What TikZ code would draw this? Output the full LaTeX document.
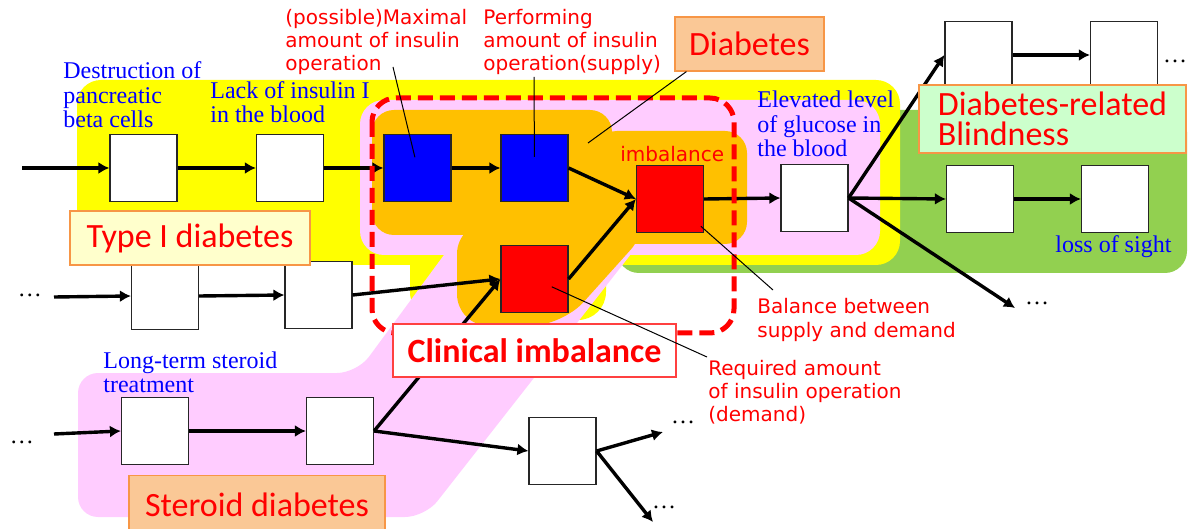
\documentclass[tikz,border=0pt]{standalone}
\usepackage{fontspec}
\setmainfont{Liberation Serif}
\newfontfamily\gothic{DejaVu Sans}
\newfontfamily\calibri{Carlito}
\usetikzlibrary{arrows.meta,calc}
\definecolor{yel}{HTML}{FFFF00}
\definecolor{pnk}{HTML}{FFCCFF}
\definecolor{org}{HTML}{FFC000}
\definecolor{grn}{HTML}{92D050}
\definecolor{peach}{HTML}{FAC896}
\definecolor{cream}{HTML}{FFFFCC}
\definecolor{mint}{HTML}{CCFFCC}
\definecolor{tagline}{HTML}{F79646}
\tikzset{
  blk/.style={draw=black!85, line width=0.6pt, minimum size=33.5pt, inner sep=0pt},
  wbox/.style={blk, fill=white},
  bbox/.style={blk, fill=blue},
  rbox/.style={blk, fill=red},
  flow/.style={line width=1.7pt, -{Latex[length=5.5pt,width=6pt]}},
  lead/.style={line width=0.5pt},
  bluetxt/.style={text=blue, font=\fontsize{12}{12.25}\selectfont, align=left, inner sep=0pt, anchor=base west},
  redtxt/.style={text=red, font=\gothic\fontsize{10}{11.65}\selectfont, align=left, inner sep=0pt, anchor=base west},
  tagbox/.style={draw=tagline, line width=0.6pt, text=red, font=\calibri\fontsize{17}{15}\selectfont, align=left, inner sep=0pt},
  dots/.style={font=\fontsize{12}{12}\selectfont, inner sep=0pt}
}
\begin{document}
\begin{tikzpicture}[x=0.5pt,y=-0.5pt]
\useasboundingbox (0,0) rectangle (1189,529);

\fill[grn, rounded corners=11pt] (617,110) rectangle (1187,273);
\fill[yel, rounded corners=12pt] (77,80) rectangle (900,265);
\fill[yel, rounded corners=14pt] (410,236) rectangle (606,320);
\fill[pnk, rounded corners=12pt] (360,100) rectangle (880,255);
\fill[pnk, rounded corners=10pt] (78,373) -- (357,373) -- (455,240) -- (642,240) -- (425,517) -- (78,517) -- cycle;
\fill[org, rounded corners=11pt] (372,110) rectangle (612,235);
\fill[org, rounded corners=11pt] (595,131) rectangle (747,244);
\fill[org, rounded corners=16pt] (457,222) -- (457,326) -- (562,326) -- (652,226) -- cycle;

\node[wbox] (A1) at (143.5,168) {};
\node[wbox] (A2) at (290,168) {};
\node[bbox] (B1) at (417.5,168) {};
\node[bbox] (B2) at (534.5,168) {};
\node[rbox] (R1) at (670,199) {};
\node[rbox] (R2) at (534.5,279) {};
\node[wbox] (G1) at (814.5,198) {};
\node[wbox] (T1) at (978.5,55) {};
\node[wbox] (T2) at (1124,55) {};
\node[wbox] (E1) at (980,199) {};
\node[wbox] (E2) at (1115,199) {};
\node[wbox] (C1) at (165,296) {};
\node[wbox] (C2) at (318.5,295) {};
\node[wbox] (S1) at (155,431) {};
\node[wbox] (S2) at (340,431) {};
\node[wbox] (D1) at (562.5,451) {};

\node[dots] (dots2) at (30,295) {\ldots};
\node[dots] (dots3) at (22,442) {\ldots};
\node[dots] (dotsT) at (1175,61) {\ldots};
\node[dots] (dotsG) at (1037,303) {\ldots};
\node[dots] (dotsDu) at (683,422) {\ldots};
\node[dots] (dotsDd) at (664,507) {\ldots};

\coordinate (in1) at (22,168);
\coordinate (in2) at (54,297);
\coordinate (in3) at (54,434);
\coordinate (gtip) at (1015,308);
\coordinate (dup) at (663,432);
\coordinate (ddn) at (653,522);

\draw[flow] (in1) -- (A1);
\draw[flow] (A1) -- (A2);
\draw[flow] (A2) -- (B1);
\draw[flow] (B1) -- (B2);
\draw[flow] (B2.east) -- (R1.west);
\draw[flow] (R2.east) -- (R1.west);
\draw[flow] (R1.east) -- (G1.west);
\draw[flow] (G1.east) -- (T1.west);
\draw[flow] (G1.east) -- (E1.west);
\draw[flow] (G1.east) -- (gtip);
\draw[flow] (T1) -- (T2);
\draw[flow] (E1) -- (E2);
\draw[flow] (in2) -- (C1.west);
\draw[flow] (C1.east) -- (C2.west);
\draw[flow] (C2.east) -- (R2.west);
\draw[flow] (in3) -- (S1.west);
\draw[flow] (S1) -- (S2);
\draw[flow] (S2.east) -- (R2.west);
\draw[flow] (S2.east) -- (D1.west);
\draw[flow] (D1.east) -- (dup);
\draw[flow] (D1.east) -- (ddn);

\draw[red, line width=2.5pt, dash pattern=on 7.5pt off 3.5pt, rounded corners=12pt] (372,98) rectangle (734,333);

\node[tagbox, fill=peach, minimum width=74.5pt, minimum height=27pt] (diab) at (749.5,44) {Diabetes};
\node[tagbox, fill=cream, minimum width=120pt, minimum height=27pt] (type1) at (190,238) {Type I diabetes};
\node[tagbox, fill=mint, minimum width=133.5pt, minimum height=34pt] (blind) at (1052.5,119) {Diabetes-related\\Blindness};
\node[tagbox, fill=white, draw=red!75, font=\calibri\bfseries\fontsize{17}{15}\selectfont, minimum width=141.5pt, minimum height=26.5pt] (clin) at (534.5,350.5) {Clinical imbalance};
\node[tagbox, fill=peach, minimum width=128pt, minimum height=29.5pt] (ster) at (257,505) {Steroid diabetes};

\coordinate (mxpt) at (393,67);
\coordinate (pfpt) at (534,77);
\coordinate (diabpt) at (588,143);
\coordinate (balpt) at (773,290);
\coordinate (reqpt) at (707,357);
\draw[lead, shorten >=5.5pt] (mxpt) -- (B1.center);
\draw[lead, shorten >=5.5pt] (pfpt) -- (B2.center);
\draw[lead] ($(diab.south west)+(12,0)$) -- (diabpt);
\draw[lead] ($(R1.center)!0.3!(balpt)$) -- (balpt);
\draw[lead] ($(R2.center)!0.1!(reqpt)$) -- (reqpt);

\node[bluetxt] (destr) at (63,128) {Destruction of\\pancreatic\\beta cells};
\node[bluetxt] (lack) at (210,123) {Lack of insulin I\\in the blood};
\node[bluetxt] (elev) at (757,157) {Elevated level\\of glucose in\\the blood};
\node[bluetxt] (longst) at (103,393) {Long-term steroid\\treatment};
\node[bluetxt] (loss) at (1055,253) {loss of sight};
\node[redtxt] (maxop) at (285,71) {(possible)Maximal\\amount of insulin\\operation};
\node[redtxt] (perf) at (483,71) {Performing\\amount of insulin\\operation(supply)};
\node[redtxt] (imb) at (620,162) {imbalance};
\node[redtxt] (bal) at (757,337) {Balance between\\supply and demand};
\node[redtxt] (req) at (708,422) {Required amount\\of insulin operation\\(demand)};
\end{tikzpicture}
\end{document}
